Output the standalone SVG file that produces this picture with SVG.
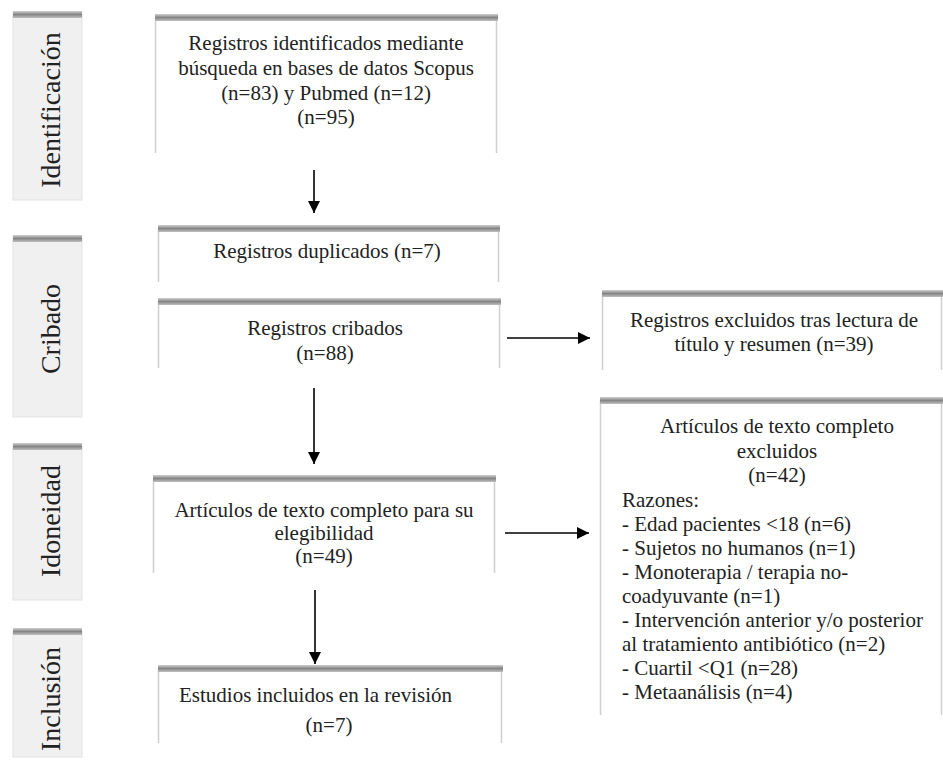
<svg xmlns="http://www.w3.org/2000/svg" width="943" height="767" viewBox="0 0 943 767">
<defs>
<linearGradient id="bar" x1="0" y1="0" x2="0" y2="1">
<stop offset="0" stop-color="#d0d0d0"/>
<stop offset="0.5" stop-color="#858585"/>
<stop offset="1" stop-color="#c0c0c0"/>
</linearGradient>
<marker id="ah" viewBox="0 0 12 12" refX="12" refY="6" markerWidth="13" markerHeight="12" markerUnits="userSpaceOnUse" orient="auto">
<path d="M0,0 L12,6 L0,12 z" fill="#000"/>
</marker>
</defs>
<style>
.tab{fill:#f0f0f0;stroke:#e2e2e2;stroke-width:1}
.box{fill:#fff}
.side{stroke:#cfcfcf;stroke-width:1.5;fill:none}
.bar{fill:url(#bar)}
.t{font-family:"Liberation Serif","Times New Roman",serif;font-size:21px;fill:#222}
.c{text-anchor:middle}
.st{font-family:"Liberation Serif","Times New Roman",serif;font-size:28px;fill:#222;text-anchor:middle}
.ar{stroke:#000;stroke-width:1.6;fill:none}
</style>
<rect width="943" height="767" fill="#fff"/>

<g id="stage-identificacion">
<rect class="tab" x="13" y="14" width="69" height="186"/>
<rect class="bar" x="13" y="11" width="69" height="7"/>
<text class="st" transform="translate(60,110) rotate(-90)">Identificación</text>
</g>
<g id="stage-cribado">
<rect class="tab" x="13" y="238" width="69" height="179"/>
<rect class="bar" x="13" y="235" width="69" height="7"/>
<text class="st" transform="translate(60,329) rotate(-90)">Cribado</text>
</g>
<g id="stage-idoneidad">
<rect class="tab" x="13" y="446" width="69" height="154"/>
<rect class="bar" x="13" y="443" width="69" height="7"/>
<text class="st" transform="translate(60,521) rotate(-90)">Idoneidad</text>
</g>
<g id="stage-inclusion">
<rect class="tab" x="13" y="631" width="69" height="126"/>
<rect class="bar" x="13" y="628" width="69" height="7"/>
<text class="st" transform="translate(60,699) rotate(-90)">Inclusión</text>
</g>

<g id="box-identificados">
<rect class="box" x="155" y="15" width="342" height="138"/>
<path class="side" d="M155.5,18 V153 M496.5,18 V153"/>
<rect class="bar" x="155" y="14" width="343" height="7"/>
<text class="t c" x="326" y="50">Registros identificados  mediante</text>
<text class="t c" x="326" y="75">búsqueda en bases de datos Scopus</text>
<text class="t c" x="326" y="100">(n=83) y Pubmed (n=12)</text>
<text class="t c" x="326" y="124">(n=95)</text>
</g>

<g id="box-duplicados">
<rect class="box" x="158" y="226" width="341" height="56"/>
<path class="side" d="M158.5,229 V282 M498.5,229 V282"/>
<rect class="bar" x="158" y="225" width="342" height="7"/>
<text class="t c" x="327" y="258">Registros duplicados (n=7)</text>
</g>

<g id="box-cribados">
<rect class="box" x="158" y="299" width="342" height="69"/>
<path class="side" d="M158.5,302 V368 M499.5,302 V368"/>
<rect class="bar" x="158" y="298" width="343" height="7"/>
<text class="t c" x="325" y="335">Registros cribados</text>
<text class="t c" x="325" y="360">(n=88)</text>
</g>

<g id="box-excluidos-titulo">
<rect class="box" x="602" y="291" width="341" height="79"/>
<path class="side" d="M602.5,294 V370 M941.5,294 V370"/>
<rect class="bar" x="602" y="290" width="341" height="7"/>
<text class="t c" x="774" y="327">Registros excluidos tras lectura de</text>
<text class="t c" x="774" y="351">título  y resumen (n=39)</text>
</g>

<g id="box-elegibilidad">
<rect class="box" x="153" y="476" width="342" height="97"/>
<path class="side" d="M153.5,479 V573 M494.5,479 V573"/>
<rect class="bar" x="153" y="475" width="343" height="7"/>
<text class="t c" x="324" y="517">Artículos de texto completo  para su</text>
<text class="t c" x="324" y="540">elegibilidad</text>
<text class="t c" x="324" y="563">(n=49)</text>
</g>

<g id="box-excluidos-completo">
<rect class="box" x="600" y="398" width="343" height="317"/>
<path class="side" d="M600.5,401 V715 M941.5,401 V715"/>
<rect class="bar" x="600" y="397" width="343" height="7"/>
<text class="t c" x="777" y="433">Artículos de texto completo</text>
<text class="t c" x="777" y="458">excluidos</text>
<text class="t c" x="777" y="482">(n=42)</text>
<text class="t" x="622" y="507">Razones:</text>
<text class="t" x="622" y="531">- Edad pacientes  &lt;18 (n=6)</text>
<text class="t" x="622" y="555">- Sujetos no humanos (n=1)</text>
<text class="t" x="622" y="579">- Monoterapia / terapia no-</text>
<text class="t" x="622" y="603">coadyuvante (n=1)</text>
<text class="t" x="622" y="627">- Intervención anterior  y/o posterior</text>
<text class="t" x="622" y="651">al tratamiento  antibiótico (n=2)</text>
<text class="t" x="622" y="675">- Cuartil &lt;Q1 (n=28)</text>
<text class="t" x="622" y="699">- Metaanálisis (n=4)</text>
</g>

<g id="box-incluidos">
<rect class="box" x="158" y="666" width="344" height="77"/>
<path class="side" d="M158.5,669 V743 M501.5,669 V743"/>
<rect class="bar" x="158" y="665" width="345" height="7"/>
<text class="t" x="179" y="702">Estudios incluidos en la revisión</text>
<text class="t c" x="329" y="732">(n=7)</text>
</g>

<g id="connectors">
<line class="ar" x1="314" y1="170" x2="314" y2="213" marker-end="url(#ah)"/>
<line class="ar" x1="507" y1="338" x2="590" y2="338" marker-end="url(#ah)"/>
<line class="ar" x1="314" y1="388" x2="314" y2="464" marker-end="url(#ah)"/>
<line class="ar" x1="505" y1="533" x2="589" y2="533" marker-end="url(#ah)"/>
<line class="ar" x1="315" y1="590" x2="315" y2="664" marker-end="url(#ah)"/>
</g>
</svg>
